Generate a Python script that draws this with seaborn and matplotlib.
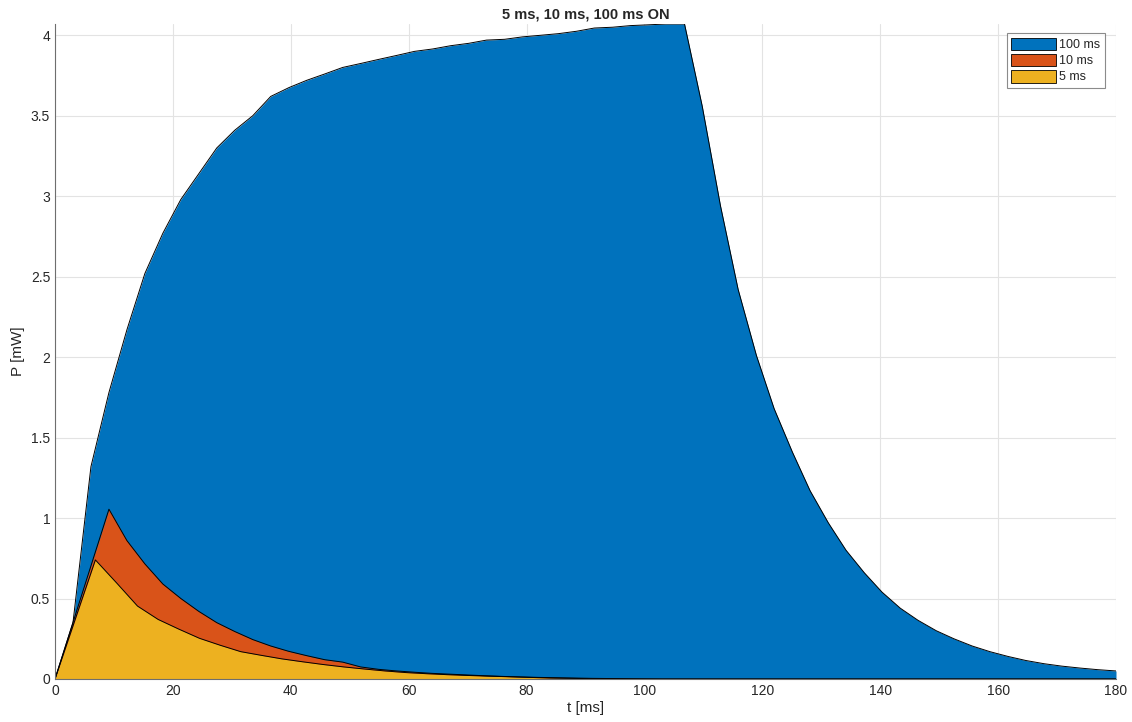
import numpy as np
import pandas as pd
import seaborn as sns
import matplotlib
matplotlib.use("Agg")
import matplotlib.pyplot as plt
from matplotlib.patches import Patch
from matplotlib.ticker import FormatStrFormatter

# 100 ms pulse
t_100 = [0, 3.05, 6.1, 9.15, 12.2, 15.25, 18.3, 21.35, 24.4, 27.45, 30.5, 33.55,
         36.6, 39.7, 42.7, 45.8, 48.8, 51.9, 54.9, 58.0, 61.0, 64.1, 67.1, 70.2,
         73.2, 76.3, 79.3, 82.4, 85.4, 88.5, 91.5, 94.6, 97.6, 100.7, 103.7, 106.8,
         109.8, 112.9, 115.9, 119.0, 122.0, 125.1, 128.1, 131.2, 134.2, 137.3,
         140.3, 143.4, 146.4, 149.5, 152.5, 155.6, 158.6, 161.7, 164.7, 167.8,
         170.8, 173.9, 176.9, 180.0]
p_100 = [0, 0.35, 1.32, 1.78, 2.17, 2.52, 2.77, 2.98, 3.14, 3.30, 3.41, 3.50,
         3.62, 3.675, 3.72, 3.76, 3.80, 3.825, 3.85, 3.875, 3.90, 3.915, 3.935, 3.95,
         3.97, 3.975, 3.99, 4.00, 4.01, 4.025, 4.045, 4.05, 4.06, 4.065, 4.07, 4.07,
         3.56, 2.94, 2.42, 2.01, 1.68, 1.41, 1.17, 0.97, 0.80, 0.66,
         0.54, 0.44, 0.365, 0.30, 0.25, 0.205, 0.17, 0.14, 0.115, 0.095,
         0.08, 0.068, 0.058, 0.05]

# 10 ms pulse
t_10 = [0, 9.15, 12.2, 15.25, 18.3, 21.35, 24.4, 27.45, 30.5, 33.55, 36.6, 39.65,
        42.7, 45.75, 48.8, 51.85, 54.9, 57.95, 61.0, 64.0, 67.0, 70.0, 73.0, 76.0,
        79.0, 82.0, 85.0, 88.0, 91.0, 94.0, 97.0, 100.0, 103.0, 180.0]
p_10 = [0, 1.055, 0.86, 0.715, 0.59, 0.50, 0.42, 0.35, 0.295, 0.245, 0.205, 0.172,
        0.145, 0.12, 0.105, 0.075, 0.06, 0.05, 0.042, 0.035, 0.03, 0.025, 0.02, 0.016,
        0.013, 0.01, 0.008, 0.006, 0.004, 0.003, 0.002, 0.001, 0, 0]

# 5 ms pulse
t_5 = [0, 6.85, 10.5, 14.0, 17.5, 21.0, 24.5, 28.0, 31.5, 35.0, 38.5, 42.0, 45.5,
       49.0, 52.5, 56.0, 59.5, 63.0, 66.5, 70.0, 73.5, 77.0, 80.5, 84.0, 87.5,
       91.0, 94.5, 98.0, 180.0]
p_5 = [0, 0.74, 0.595, 0.453, 0.37, 0.31, 0.253, 0.21, 0.17, 0.147, 0.125, 0.107,
       0.09, 0.075, 0.062, 0.05, 0.04, 0.033, 0.027, 0.022, 0.018, 0.014, 0.01,
       0.006, 0.004, 0.002, 0.001, 0, 0]

series = [("100 ms", t_100, p_100, "#0072BD"),
          ("10 ms", t_10, p_10, "#D95319"),
          ("5 ms", t_5, p_5, "#EDB120")]

sns.set_style("whitegrid")
plt.rcParams['font.family'] = ['Liberation Sans', 'DejaVu Sans']

fig = plt.figure(figsize=(11.32, 7.22), dpi=100)
ax = fig.add_axes([55 / 1132, 1 - 679 / 722, (1116 - 55) / 1132, (679 - 24) / 722])

handles = []
for name, t, p, col in series:
    df = pd.DataFrame({"t": t, "P": p})
    ax.fill_between(df["t"], df["P"], 0, color=col, linewidth=0)
    sns.lineplot(data=df, x="t", y="P", ax=ax, color="black", linewidth=0.7,
                 sort=False, estimator=None)
    handles.append(Patch(facecolor=col, edgecolor="black", linewidth=0.6, label=name))

ax.set_xlim(0, 180)
ax.set_ylim(0, max(p_100))
ax.set_xticks(np.arange(0, 181, 20))
ax.set_yticks(np.arange(0, 4.01, 0.5))
ax.yaxis.set_major_formatter(FormatStrFormatter('%g'))
ax.grid(True, color="#E3E3E3", linewidth=0.8)
ax.set_axisbelow(True)

for s in ["top", "right"]:
    ax.spines[s].set_visible(False)
for s in ["left", "bottom"]:
    ax.spines[s].set_color("#6E6E6E")
    ax.spines[s].set_linewidth(0.8)
ax.tick_params(direction="in", length=5, width=0.8, color="#6E6E6E",
               labelsize=10, labelcolor="#262626")

ax.set_xlabel("t [ms]", fontsize=11, color="#262626", labelpad=2)
ax.set_ylabel("P [mW]", fontsize=11, color="#262626", labelpad=4)
ax.set_title("5 ms, 10 ms, 100 ms ON", fontsize=10.5, fontweight="bold", pad=4)

leg = ax.legend(handles=handles, loc="upper right", bbox_to_anchor=(0.9896, 0.986),
                fontsize=9, frameon=True, fancybox=False, handlelength=3.6,
                handleheight=1.2, handletextpad=0.25, labelspacing=0.2,
                borderpad=0.35, borderaxespad=0)
leg.get_frame().set_edgecolor("#6E6E6E")
leg.get_frame().set_linewidth(0.8)

fig.savefig("out.png", dpi=100)
